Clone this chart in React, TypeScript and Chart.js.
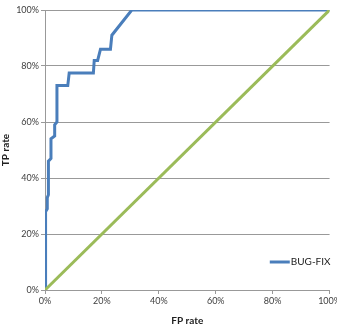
import React, { useEffect, useRef } from "react";
import { Chart, registerables } from "chart.js";

Chart.register(...registerables);

const seriesLabel = "BUG-FIX";
const fpRate = [0, 0, 0.3, 0.3, 0.8, 0.8, 1.2, 1.2, 2.1, 2.1, 3.4, 3.4, 4.2, 4.2, 8, 8.5, 17, 17.3, 18.5, 19.5, 23, 23.5, 30.5, 100];
const tpRate = [0, 23, 24, 28, 29, 33, 34, 46, 47, 54, 55, 59, 60, 73, 73, 77.5, 77.5, 82, 82, 86, 86, 91, 100, 100];
const diagX = [0, 100];
const diagY = [0, 100];
const xTitle = "FP rate";
const yTitle = "TP rate";

const FONT = "Lato, 'Liberation Sans', sans-serif";

const legendPlugin = {
  id: "insideLegend",
  afterDraw(chart: any) {
    const { ctx, chartArea } = chart;
    ctx.save();
    ctx.font = `10px ${FONT}`;
    const tw = ctx.measureText(seriesLabel).width;
    const tx = chartArea.right + 1 - tw;
    const ty = chartArea.bottom - 28;
    ctx.fillStyle = "#222";
    ctx.textBaseline = "middle";
    ctx.fillText(seriesLabel, tx, ty);
    ctx.strokeStyle = "#4A7EBB";
    ctx.lineWidth = 3;
    ctx.beginPath();
    ctx.moveTo(tx - 21, ty);
    ctx.lineTo(tx - 1, ty);
    ctx.stroke();
    ctx.restore();
  },
};

export default function App() {
  const ref = useRef<HTMLCanvasElement>(null);
  useEffect(() => {
    const chart = new Chart(ref.current!, {
      type: "scatter",
      data: {
        datasets: [
          {
            label: "Random",
            data: diagX.map((x, i) => ({ x, y: diagY[i] })),
            showLine: true,
            borderColor: "#9BBB59",
            borderWidth: 3,
            pointRadius: 0,
          },
          {
            label: seriesLabel,
            data: fpRate.map((x, i) => ({ x, y: tpRate[i] })),
            showLine: true,
            borderColor: "#4A7EBB",
            borderWidth: 3,
            pointRadius: 0,
            borderJoinStyle: "miter",
          },
        ],
      },
      options: {
        animation: false,
        responsive: false,
        maintainAspectRatio: false,
        layout: { padding: { top: 10, right: 0, left: 0, bottom: 0 } },
        plugins: { legend: { display: false }, tooltip: { enabled: false } },
        scales: {
          x: {
            type: "linear",
            min: 0,
            max: 100,
            afterFit: (s: any) => {
              s.height = 37;
            },
            ticks: {
              stepSize: 20,
              callback: (v: any) => v + "%",
              font: { family: FONT, size: 9 },
              color: "#404040",
              padding: 2,
              maxRotation: 0,
            },
            grid: { drawOnChartArea: false, drawTicks: true, tickLength: 4, color: "#999" },
            border: { color: "#999" },
            title: {
              display: true,
              text: xTitle,
              font: { family: FONT, size: 10, weight: "bold" },
              color: "#222",
              padding: { top: 2, bottom: 0 },
            },
          },
          y: {
            type: "linear",
            min: 0,
            max: 100,
            afterFit: (s: any) => {
              s.width = 45;
            },
            ticks: {
              stepSize: 20,
              callback: (v: any) => v + "%",
              font: { family: FONT, size: 9 },
              color: "#404040",
              padding: 2,
            },
            grid: { drawTicks: true, tickLength: 4, color: "#999" },
            border: { color: "#999" },
            title: {
              display: true,
              text: yTitle,
              font: { family: FONT, size: 10, weight: "bold" },
              color: "#222",
              padding: { top: 0, bottom: 4 },
            },
          },
        },
      },
      plugins: [legendPlugin],
    });
    return () => chart.destroy();
  }, []);
  return (
    <div style={{ position: "fixed", left: 0, top: 0, width: 337, height: 327, overflow: "hidden", background: "#fff" }}>
      <canvas ref={ref} width={343} height={327} style={{ display: "block" }} />
    </div>
  );
}
